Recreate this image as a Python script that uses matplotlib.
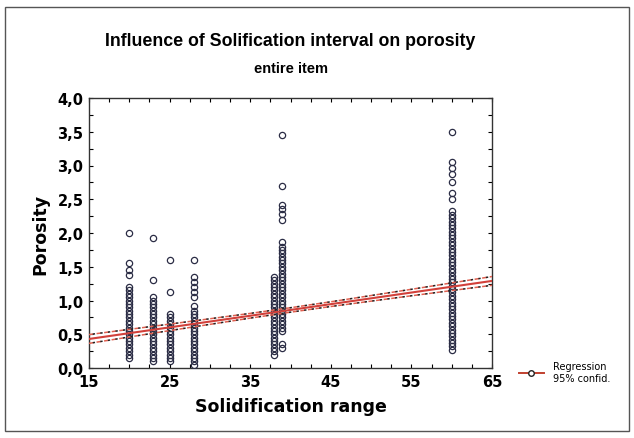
import matplotlib
matplotlib.use("Agg")
import matplotlib.pyplot as plt
import numpy as np
from matplotlib.lines import Line2D
from matplotlib.patches import Rectangle
from matplotlib.ticker import MultipleLocator, FuncFormatter

# ---- data ----
por_20 = [0.15, 0.2, 0.25, 0.3, 0.35, 0.4, 0.45, 0.5, 0.55, 0.6, 0.65, 0.7, 0.75, 0.8,
          0.85, 0.9, 0.95, 1.0, 1.05, 1.1, 1.15, 1.2, 1.38, 1.45, 1.55, 2.0]
por_23 = [0.1, 0.15, 0.2, 0.25, 0.3, 0.35, 0.4, 0.45, 0.5, 0.55, 0.6, 0.65, 0.7, 0.75,
          0.8, 0.85, 0.9, 0.95, 1.0, 1.05, 1.3, 1.93]
por_25 = [0.1, 0.15, 0.2, 0.25, 0.3, 0.35, 0.4, 0.45, 0.5, 0.55, 0.6, 0.65, 0.7, 0.75,
          0.8, 1.12, 1.6]
por_28 = [0.05, 0.1, 0.15, 0.2, 0.25, 0.3, 0.35, 0.4, 0.45, 0.5, 0.55, 0.6, 0.65, 0.7,
          0.75, 0.8, 0.85, 0.92, 1.05, 1.12, 1.2, 1.28, 1.35, 1.6]
por_38 = [0.2, 0.25, 0.3, 0.35, 0.4, 0.45, 0.5, 0.55, 0.6, 0.65, 0.7, 0.75, 0.8, 0.85,
          0.9, 0.95, 1.0, 1.05, 1.1, 1.15, 1.2, 1.25, 1.3, 1.35]
por_39 = [0.3, 0.35, 0.55, 0.6, 0.65, 0.7, 0.75, 0.8, 0.85, 0.9, 0.95, 1.0, 1.05, 1.1,
          1.15, 1.2, 1.25, 1.3, 1.35, 1.4, 1.45, 1.5, 1.55, 1.6, 1.65, 1.7, 1.75, 1.8,
          1.87, 2.2, 2.28, 2.35, 2.42, 2.7, 3.45]
por_60 = [0.27, 0.32, 0.37, 0.42, 0.47, 0.52, 0.57, 0.62, 0.67, 0.72, 0.77, 0.82, 0.87,
          0.92, 0.97, 1.02, 1.07, 1.12, 1.17, 1.22, 1.27, 1.32, 1.37, 1.42, 1.47, 1.52,
          1.57, 1.62, 1.67, 1.72, 1.77, 1.82, 1.87, 1.92, 1.97, 2.02, 2.07, 2.12, 2.17,
          2.22, 2.27, 2.33, 2.5, 2.6, 2.75, 2.88, 2.97, 3.05, 3.5]
columns = {20: por_20, 23: por_23, 25: por_25, 28: por_28, 38: por_38, 39: por_39, 60: por_60}

reg_x = [15, 65]
reg_y = [0.43, 1.29]
band_x = [15, 25, 35, 40, 45, 55, 65]
band_halfwidth = [0.065, 0.048, 0.035, 0.033, 0.035, 0.048, 0.065]

x_ticks = [15, 25, 35, 45, 55, 65]
y_ticks = [0.0, 0.5, 1.0, 1.5, 2.0, 2.5, 3.0, 3.5, 4.0]

# ---- figure ----
W, H = 634, 439
fig = plt.figure(figsize=(W / 100, H / 100), dpi=100)
fig.patch.set_facecolor("white")
ax = fig.add_axes([89 / W, 1 - 369 / H, (492 - 89) / W, (369 - 99) / H])

xs, ys = [], []
for xv, vals in columns.items():
    xs += [xv] * len(vals)
    ys += vals
ax.plot(xs, ys, linestyle="none", marker="o", markersize=4.5,
        markerfacecolor="none", markeredgecolor="#2b2d45", markeredgewidth=0.9, zorder=3)

# regression and confidence band
rx = np.array(band_x, dtype=float)
slope = (reg_y[1] - reg_y[0]) / (reg_x[1] - reg_x[0])
ry = reg_y[0] + slope * (rx - reg_x[0])
hw = np.array(band_halfwidth)
ax.plot(reg_x, reg_y, color="#d2403a", linewidth=1.5, zorder=4)
for sgn in (1, -1):
    ax.plot(rx, ry + sgn * hw, color="#e06050", linewidth=1.1, linestyle=(0, (3, 2)), zorder=4)
    ax.plot(rx, ry + sgn * hw, color="#222222", linewidth=1.1, linestyle=(2.5, (1.5, 3.5)), zorder=4)

ax.set_xlim(15, 65)
ax.set_ylim(0, 4)
ax.set_xticks(x_ticks)
ax.set_yticks(y_ticks)
ax.yaxis.set_major_formatter(FuncFormatter(lambda v, p: f"{v:.1f}".replace(".", ",")))
ax.xaxis.set_minor_locator(MultipleLocator(2.5))
ax.yaxis.set_minor_locator(MultipleLocator(0.25))
ax.tick_params(which="both", direction="in", top=True, right=True, length=3, width=0.8)
ax.tick_params(which="major", labelsize=10.5, pad=4)
for lab in ax.get_xticklabels() + ax.get_yticklabels():
    lab.set_fontweight("bold")
for s in ax.spines.values():
    s.set_linewidth(1.0)
    s.set_color("#333333")

ax.set_xlabel("Solidification range", fontsize=12.5, fontweight="bold", labelpad=6)
ax.set_ylabel("Porosity", fontsize=12.5, fontweight="bold", labelpad=6)

fig.text(290 / W, 1 - 42 / H, "Influence of Solification interval on porosity",
         ha="center", va="center", fontsize=12.8, fontweight="bold", fontfamily="Liberation Sans")
fig.text(291 / W, 1 - 69 / H, "entire item",
         ha="center", va="center", fontsize=10.5, fontweight="bold", fontfamily="Liberation Sans")

# legend
ax.legend(handles=[Line2D([0], [0], color="#c0402f", linewidth=1.4, marker="o",
                          markerfacecolor="white", markeredgecolor="#222222", markersize=4)],
          labels=["Regression\n95% confid."], loc="center left",
          bbox_to_anchor=(510 / W, 1 - 373 / H), bbox_transform=fig.transFigure,
          frameon=False, fontsize=7, handlelength=2.6, handletextpad=0.9)

# outer frame
fig.add_artist(Rectangle((5 / W, 1 - 432 / H), (629 - 5) / W, (432 - 8) / H,
                         transform=fig.transFigure, fill=False, edgecolor="#555555", linewidth=1.0))

fig.savefig("out.png", dpi=100)
